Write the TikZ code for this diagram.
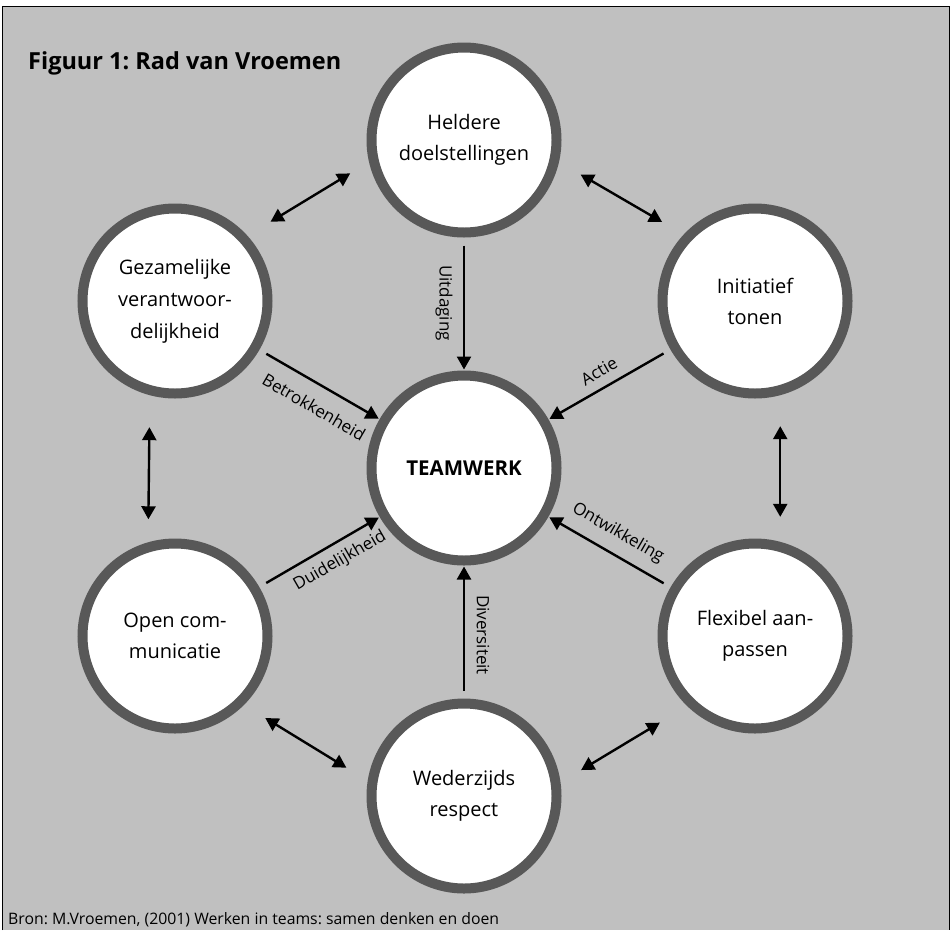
\documentclass[tikz,border=0pt]{standalone}
\usepackage{fontspec}
\setmainfont{Open Sans}
\frenchspacing
\usetikzlibrary{arrows.meta}
\definecolor{achtergrond}{RGB}{192,192,192}
\definecolor{rand}{RGB}{88,88,88}
\tikzset{
  waarde/.style={circle, draw=rand, line width=10pt, fill=white,
    minimum size=185pt, inner sep=0pt, align=center,
    font=\fontsize{20}{31}\selectfont},
  invloed/.style={-{Triangle[width=14pt,length=13pt]}, line width=2.4pt,
    shorten <=8pt, shorten >=1pt},
  wissel/.style={{Triangle[width=14pt,length=13pt]}-{Triangle[width=14pt,length=13pt]},
    line width=2.4pt, shorten <=25pt, shorten >=25pt},
  bijschrift/.style={inner sep=0pt, font=\fontsize{17}{20}\selectfont}
}
\begin{document}
\begin{tikzpicture}[x=1pt,y=-1pt]
\useasboundingbox (0,0) rectangle (952,930);
\fill[achtergrond] (2,6) rectangle (949,930);
\draw[line width=1pt] (2,930) -- (2,6) -- (949,6) -- (949,930);

\node[anchor=base west, inner sep=0pt, font=\bfseries\fontsize{23.5}{26}\selectfont]
    (titel) at (28,69) {Figuur 1: Rad van Vroemen};

% de zes waarden rond het midden
\node[waarde] (doelen) at (464,140) {Heldere\\doelstellingen};
\node[waarde] (initiatief) at (755,301) {Initiatief\\tonen};
\node[waarde] (flexibel) at (755,636) {Flexibel aan-\\passen};
\node[waarde] (respect) at (464,796) {Wederzijds\\respect};
\node[waarde] (communicatie) at (175,636) {Open com-\\municatie};
\node[waarde, font=\fontsize{20}{32}\selectfont] (verantwoordelijk) at (175,301)
    {Gezamelijke\\verantwoor-\\delijkheid};
\node[waarde, font=\bfseries\fontsize{20.5}{24}\selectfont] (teamwerk) at (464,468) {TEAMWERK};

% pijlen naar het midden
\draw[invloed] (doelen) -- (teamwerk);
\draw[invloed] (verantwoordelijk) -- (teamwerk);
\draw[invloed] (initiatief) -- (teamwerk);
\draw[invloed] (communicatie) -- (teamwerk);
\draw[invloed] (flexibel) -- (teamwerk);
\draw[invloed] (respect) -- (teamwerk);

\node[bijschrift, rotate=-90] (uitdaging) at (444,303) {Uitdaging};
\node[bijschrift, rotate=-30] (betrokkenheid) at (314,407) {Betrokkenheid};
\node[bijschrift, rotate=30] (actie) at (599,371) {Actie};
\node[bijschrift, rotate=30] (duidelijkheid) at (340,561) {Duidelijkheid};
\node[bijschrift, rotate=-30] (ontwikkeling) at (618,533) {Ontwikkeling};
\node[bijschrift, rotate=-90] (diversiteit) at (483,635) {Diversiteit};

% pijlen tussen de buren
\draw[wissel] (doelen.-13) -- (initiatief.137);
\draw[wissel, shorten <=27pt, shorten >=22pt] (verantwoordelijk.42) -- (doelen.193);
\draw[wissel, shorten <=32pt, shorten >=23pt] (verantwoordelijk.-105) -- (communicatie.106);
\draw[wissel, shorten <=31pt, shorten >=25pt] (initiatief.-75) -- (flexibel.75);
\draw[wissel] (communicatie.-45) -- (respect.171);
\draw[wissel, shorten <=32pt, shorten >=24pt] (flexibel.-134) -- (respect.8);

\node[anchor=base west, inner sep=0pt, font=\fontsize{15.8}{18}\selectfont]
    (bron) at (8,924) {Bron: M.Vroemen, (2001) Werken in teams: samen denken en doen};
\end{tikzpicture}
\end{document}
